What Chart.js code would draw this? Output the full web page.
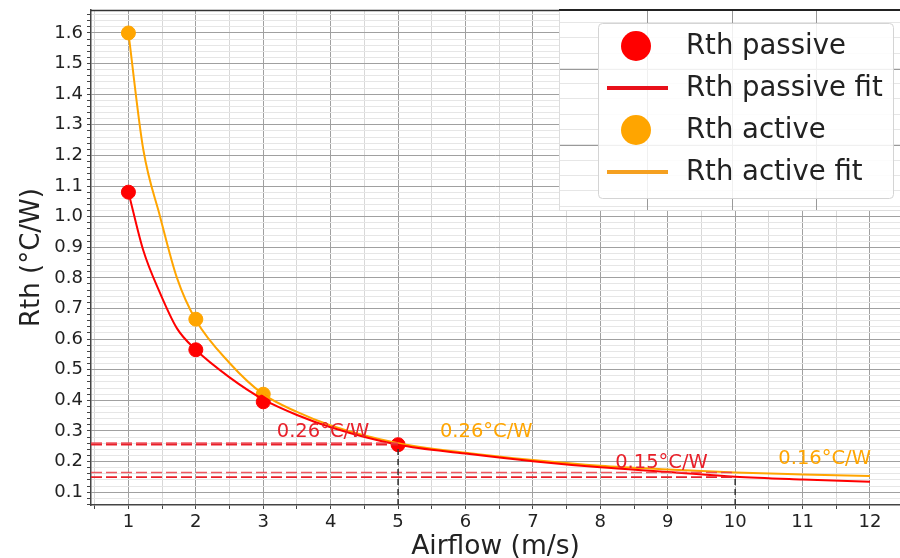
<!DOCTYPE html>
<html>
<head>
<meta charset="utf-8">
<script src="https://cdn.jsdelivr.net/npm/chart.js@4/dist/chart.umd.min.js"></script>
<style>
html, body { margin: 0; padding: 0; background: #fff; overflow: hidden; }
#wrap { width: 900px; height: 558px; }
</style>
</head>
<body>
<div id="wrap"><canvas id="graficoRth"></canvas></div>
<script>
// measured points
var airflowPassive = [1, 2, 3, 5];
var rthPassive = [1.08, 0.565, 0.395, 0.255];
var airflowActive = [1, 2, 3];
var rthActive = [1.6, 0.665, 0.42];

// fit curves
var fitX = [1, 1.22, 1.47, 1.72, 2, 2.5, 3, 3.5, 4, 5, 6, 7, 8, 9, 10, 11, 12];
var fitPassive = [1.08, 0.89, 0.75, 0.635, 0.565, 0.475, 0.403, 0.352, 0.312, 0.255, 0.226, 0.201, 0.181, 0.166, 0.150, 0.141, 0.134];
var fitActive = [1.6, 1.22, 1.0, 0.80, 0.662, 0.522, 0.42, 0.362, 0.318, 0.26, 0.229, 0.205, 0.186, 0.174, 0.164, 0.158, 0.153];

// guide lines at 5 and 10 m/s
var markX = [5, 10];
var markPassive = [0.255, 0.149];
var markActive = [0.26, 0.164];
var labelsPassive = ['0.26°C/W', '0.15°C/W'];
var labelsActive = ['0.26°C/W', '0.16°C/W'];

// tick labels
var xTicks = [1, 2, 3, 4, 5, 6, 7, 8, 9, 10, 11, 12];
var yTicks = [0.1, 0.2, 0.3, 0.4, 0.5, 0.6, 0.7, 0.8, 0.9, 1.0, 1.1, 1.2, 1.3, 1.4, 1.5, 1.6];

var xMin = 0.445, xMax = 12.445;
var yMin = 0.058, yMax = 1.675;

var FONTE = 'DejaVu Sans';
var VERMELHO = '#ff0000';
var LARANJA = '#ffa500';

var pares = function(xs, ys){
	var out = [];
	for (var i = 0; i < xs.length; i++) {
		out.push({x: xs[i], y: ys[i]});
	}
	return out;
};

var datasets = [];

// dashed guides (drawn first, under the curves)
for (var i = 0; i < markX.length; i++) {
	datasets.push({
		label: 'guia ativo ' + i,
		data: [{x: xMin, y: markActive[i]}, {x: markX[i], y: markActive[i]}],
		showLine: true, pointRadius: 0, borderColor: 'rgba(236,60,70,0.85)',
		borderWidth: 1.6, borderDash: [11, 4]
	});
	datasets.push({
		label: 'guia passivo ' + i,
		data: [{x: xMin, y: markPassive[i]}, {x: markX[i], y: markPassive[i]}],
		showLine: true, pointRadius: 0, borderColor: '#e8202a',
		borderWidth: 1.8, borderDash: [11, 4]
	});
	datasets.push({
		label: 'vertical ' + i,
		data: [{x: markX[i], y: yMin}, {x: markX[i], y: markPassive[i]}],
		showLine: true, pointRadius: 0, borderColor: '#333',
		borderWidth: 1.5, borderDash: [6, 4]
	});
}

datasets.push({
	label: 'Rth passive fit',
	data: pares(fitX, fitPassive),
	showLine: true, pointRadius: 0, borderColor: VERMELHO, borderWidth: 2,
	cubicInterpolationMode: 'monotone'
});
datasets.push({
	label: 'Rth active fit',
	data: pares(fitX, fitActive),
	showLine: true, pointRadius: 0, borderColor: LARANJA, borderWidth: 2,
	cubicInterpolationMode: 'monotone'
});
datasets.push({
	label: 'Rth passive',
	data: pares(airflowPassive, rthPassive),
	showLine: false, pointRadius: 7, backgroundColor: VERMELHO, borderColor: VERMELHO
});
datasets.push({
	label: 'Rth active',
	data: pares(airflowActive, rthActive),
	showLine: false, pointRadius: 7, backgroundColor: LARANJA, borderColor: LARANJA
});

// text labels, top spine, pasted legend patch
var extras = {
	id: 'extras',
	afterDatasetsDraw: function(chart){
		var ctx = chart.ctx;
		var sx = chart.scales.x, sy = chart.scales.y;
		var area = chart.chartArea;

		ctx.save();
		ctx.font = '19.5px "' + FONTE + '"';
		ctx.textBaseline = 'middle';
		ctx.textAlign = 'left';
		var posPassivo = [[3.2, 0.296], [8.22, 0.195]];
		var posAtivo = [[5.62, 0.296], [10.64, 0.208]];
		for (var i = 0; i < markX.length; i++) {
			ctx.fillStyle = '#e8202a';
			ctx.fillText(labelsPassive[i], sx.getPixelForValue(posPassivo[i][0]), sy.getPixelForValue(posPassivo[i][1]));
			ctx.fillStyle = LARANJA;
			ctx.fillText(labelsActive[i], sx.getPixelForValue(posAtivo[i][0]), sy.getPixelForValue(posAtivo[i][1]));
		}

		// top spine
		ctx.strokeStyle = '#333';
		ctx.lineWidth = 1.5;
		ctx.beginPath();
		ctx.moveTo(area.left, area.top + 0.5);
		ctx.lineTo(900, area.top + 0.5);
		ctx.stroke();

		// legend patch
		var px = 559, py = 11, pw = 341, ph = 199;
		ctx.fillStyle = '#fff';
		ctx.fillRect(px, py, pw, ph);
		ctx.lineWidth = 1;
		for (var yy = py + 11; yy < py + ph; yy += 15.3) {
			ctx.strokeStyle = '#e6e6e6';
			ctx.beginPath(); ctx.moveTo(px, Math.round(yy) + 0.5); ctx.lineTo(px + pw, Math.round(yy) + 0.5); ctx.stroke();
		}
		ctx.strokeStyle = '#999';
		[69, 145].forEach(function(yy){
			ctx.beginPath(); ctx.moveTo(px, yy + 0.5); ctx.lineTo(px + pw, yy + 0.5); ctx.stroke();
		});
		[647, 732, 816].forEach(function(xx){
			ctx.beginPath(); ctx.moveTo(xx + 0.5, py); ctx.lineTo(xx + 0.5, py + ph); ctx.stroke();
		});
		ctx.strokeStyle = '#ddd';
		ctx.beginPath(); ctx.moveTo(px + 0.5, py); ctx.lineTo(px + 0.5, py + ph); ctx.stroke();
		ctx.beginPath(); ctx.moveTo(px, py + ph + 0.5); ctx.lineTo(px + pw, py + ph + 0.5); ctx.stroke();
		ctx.strokeStyle = '#222';
		ctx.lineWidth = 2;
		ctx.beginPath(); ctx.moveTo(px, 10); ctx.lineTo(900, 10); ctx.stroke();

		// legend box
		ctx.fillStyle = 'rgba(255,255,255,0.85)';
		ctx.strokeStyle = '#d4d4d4';
		ctx.lineWidth = 1;
		ctx.beginPath();
		ctx.roundRect(598.5, 23.5, 295, 175, 4);
		ctx.fill();
		ctx.stroke();

		var itens = ['Rth passive', 'Rth passive fit', 'Rth active', 'Rth active fit'];
		var cores = [VERMELHO, '#e8101a', LARANJA, '#f5a020'];
		ctx.font = '27.5px "' + FONTE + '"';
		ctx.textBaseline = 'middle';
		for (var k = 0; k < itens.length; k++) {
			var cy = 46 + k * 42;
			ctx.fillStyle = cores[k];
			if (k % 2 === 0) {
				ctx.beginPath(); ctx.arc(636, cy, 15, 0, Math.PI * 2); ctx.fill();
			} else {
				ctx.fillRect(607, cy - 2, 61, 4);
			}
			ctx.fillStyle = '#222';
			ctx.fillText(itens[k], 686, cy + 1);
		}
		ctx.restore();
	}
};

var grafico = new Chart(document.getElementById('graficoRth'), {
	type: 'scatter',
	data: { datasets: datasets },
	options: {
		responsive: true,
		maintainAspectRatio: false,
		animation: false,
		layout: { autoPadding: false, padding: { top: 10, right: 0, left: 0, bottom: 0 } },
		plugins: {
			legend: { display: false },
			tooltip: { enabled: false }
		},
		scales: {
			x: {
				type: 'linear', min: xMin, max: xMax,
				afterBuildTicks: function(scale){
					var t = [];
					for (var i = 1; i <= 24; i++) t.push({value: i / 2});
					scale.ticks = t;
				},
				afterFit: function(scale){
					scale.height = 53;
					scale.paddingLeft = 0;
					scale.paddingRight = 0;
				},
				ticks: {
					autoSkip: false, maxRotation: 0, padding: 3,
					color: '#222', font: { family: FONTE, size: 18 },
					callback: function(v){ return xTicks.indexOf(v) >= 0 ? String(v) : ''; }
				},
				grid: {
					color: function(c){ return c.tick && Number.isInteger(c.tick.value) ? '#a0a0a0' : '#d8d8d8'; },
					tickColor: '#444', tickLength: 4, lineWidth: 1
				},
				border: { color: '#444', width: 1.5 },
				title: {
					display: true, text: 'Airflow (m/s)', color: '#222',
					font: { family: FONTE, size: 26.5, lineHeight: 0.8 }, padding: { top: 0, bottom: 0 }
				}
			},
			y: {
				type: 'linear', min: yMin, max: yMax,
				afterBuildTicks: function(scale){
					var t = [];
					for (var i = 3; i <= 83; i++) t.push({value: i / 50});
					scale.ticks = t;
				},
				afterFit: function(scale){
					scale.width = 91;
					scale.paddingTop = 0;
					scale.paddingBottom = 0;
				},
				ticks: {
					autoSkip: false, padding: 4,
					color: '#222', font: { family: FONTE, size: 18 },
					callback: function(v){
						for (var i = 0; i < yTicks.length; i++) {
							if (Math.abs(yTicks[i] - v) < 1e-6) return yTicks[i].toFixed(1);
						}
						return '';
					}
				},
				grid: {
					color: function(c){
						if (!c.tick) return '#e8e8e8';
						return Math.round(c.tick.value * 50) % 5 === 0 ? '#a0a0a0' : '#e6e6e6';
					},
					tickColor: '#444', tickLength: 4, lineWidth: 1
				},
				border: { color: '#444', width: 1.5 },
				title: {
					display: true, text: 'Rth (°C/W)', color: '#222',
					font: { family: FONTE, size: 26, lineHeight: 1 }, padding: { top: 19, bottom: 0 }
				}
			}
		}
	},
	plugins: [extras]
});
</script>
</body>
</html>
